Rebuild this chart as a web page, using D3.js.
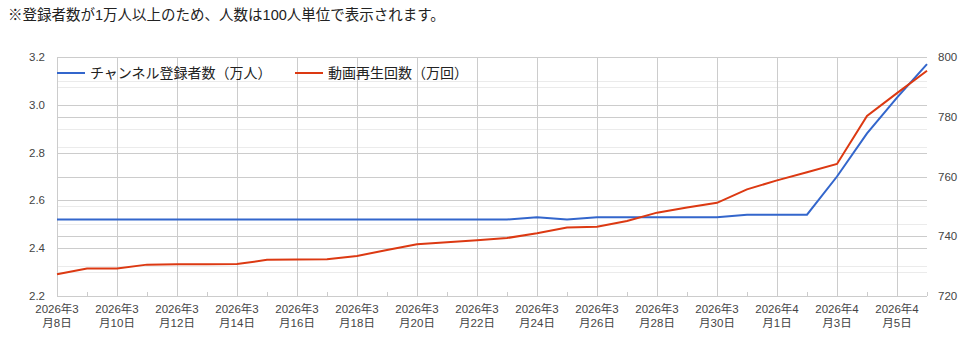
<!DOCTYPE html>
<html>
<head>
<meta charset="utf-8">
<script src="https://cdn.jsdelivr.net/npm/d3@7"></script>
<style>
  body { margin: 0; background: #fff; }
  text { font-family: Arial, "Liberation Sans", "Noto Sans CJK JP", sans-serif; }
</style>
</head>
<body>
<div id="chart"></div>
<script>
// Data
var dates = ["2026-03-08","2026-03-09","2026-03-10","2026-03-11","2026-03-12","2026-03-13","2026-03-14",
  "2026-03-15","2026-03-16","2026-03-17","2026-03-18","2026-03-19","2026-03-20","2026-03-21","2026-03-22",
  "2026-03-23","2026-03-24","2026-03-25","2026-03-26","2026-03-27","2026-03-28","2026-03-29","2026-03-30",
  "2026-03-31","2026-04-01","2026-04-02","2026-04-03","2026-04-04","2026-04-05","2026-04-06"];

var subscribers = [2.52,2.52,2.52,2.52,2.52,2.52,2.52,2.52,2.52,2.52,2.52,2.52,2.52,2.52,2.52,2.52,
  2.53,2.52,2.53,2.53,2.53,2.53,2.53,2.54,2.54,2.54,2.70,2.88,3.03,3.17];

var views = [727.3,729.2,729.2,730.5,730.6,730.6,730.7,732.1,732.2,732.3,733.4,735.4,737.3,738.0,738.7,
  739.4,741.0,742.9,743.2,745.1,747.9,749.6,751.2,755.7,758.7,761.4,764.2,780.3,787.9,795.4];

var seriesNames = ["チャンネル登録者数（万人）", "動画再生回数（万回）"];
var seriesColors = ["#3366cc", "#dc3912"];

var leftTicks = [2.2, 2.4, 2.6, 2.8, 3.0, 3.2];
var leftMinor = [2.3, 2.5, 2.7, 2.9, 3.1];
var rightTicks = [720, 740, 760, 780, 800];
var rightMinor = [730, 750, 770, 790];

var note = "※登録者数が1万人以上のため、人数は100人単位で表示されます。";

let width = 975;
let height = 346;
let plotLeft = 57, plotRight = 927, plotTop = 57, plotBottom = 296;

let parse = d3.timeParse("%Y-%m-%d");
let data = dates.map((d, i) => ({ date: parse(d), sub: subscribers[i], view: views[i] }));

let svg = d3.select("#chart").append("svg")
  .attr("width", width)
  .attr("height", height);

let x = d3.scaleTime()
  .domain([data[0].date, data[data.length - 1].date])
  .range([plotLeft, plotRight]);

let yL = d3.scaleLinear().domain([2.2, 3.2]).range([plotBottom, plotTop]);
let yR = d3.scaleLinear().domain([720, 800]).range([plotBottom, plotTop]);

// note at the top
svg.append("text")
  .attr("x", 8)
  .attr("y", 20)
  .style("font-size", "14.5px")
  .style("fill", "#222")
  .text(note);

// horizontal gridlines (minor first, then major)
let grid = svg.append("g");
function hline(yy, color) {
  grid.append("line").attr("x1", plotLeft).attr("x2", plotRight)
    .attr("y1", Math.round(yy) + 0.5).attr("y2", Math.round(yy) + 0.5)
    .style("stroke", color);
}
leftMinor.forEach(v => hline(yL(v), "#ebebeb"));
rightMinor.forEach(v => hline(yR(v), "#ebebeb"));
leftTicks.forEach(v => hline(yL(v), "#cccccc"));
rightTicks.forEach(v => hline(yR(v), "#cccccc"));

// vertical gridlines every 2 days, small ticks on odd days
let labelDates = data.filter((d, i) => i % 2 == 0 && i < data.length - 1).map(d => d.date);
let minorDates = data.filter((d, i) => i % 2 == 1).map(d => d.date);

labelDates.forEach(d => {
  grid.append("line")
    .attr("x1", Math.round(x(d)) + 0.5).attr("x2", Math.round(x(d)) + 0.5)
    .attr("y1", plotTop).attr("y2", plotBottom)
    .style("stroke", "#cccccc");
});
minorDates.forEach(d => {
  grid.append("line")
    .attr("x1", Math.round(x(d)) + 0.5).attr("x2", Math.round(x(d)) + 0.5)
    .attr("y1", plotBottom - 4).attr("y2", plotBottom)
    .style("stroke", "#cccccc");
});

// x labels, two lines
let fmt1 = d3.timeFormat("%Y年%-m");
let fmt2 = d3.timeFormat("月%-d日");
labelDates.forEach(d => {
  let t = svg.append("text")
    .attr("text-anchor", "middle")
    .style("font-size", "11.5px")
    .style("fill", "#444");
  t.append("tspan").attr("x", x(d)).attr("y", 313).text(fmt1(d));
  t.append("tspan").attr("x", x(d)).attr("y", 327).text(fmt2(d));
});

// left axis labels
svg.append("g").selectAll("text")
  .data(leftTicks)
  .join("text")
  .attr("x", 45)
  .attr("y", d => yL(d))
  .attr("dy", "0.35em")
  .attr("text-anchor", "end")
  .style("font-size", "11.5px")
  .style("fill", "#444")
  .text(d => d.toFixed(1));

// right axis labels
svg.append("g").selectAll("text")
  .data(rightTicks)
  .join("text")
  .attr("x", 938)
  .attr("y", d => yR(d))
  .attr("dy", "0.35em")
  .style("font-size", "11.5px")
  .style("fill", "#444")
  .text(d => d);

// lines
let subLine = d3.line().x(d => x(d.date)).y(d => yL(d.sub));
let viewLine = d3.line().x(d => x(d.date)).y(d => yR(d.view));

svg.append("path")
  .datum(data)
  .attr("d", subLine)
  .style("fill", "none")
  .style("stroke", seriesColors[0])
  .style("stroke-width", 2);

svg.append("path")
  .datum(data)
  .attr("d", viewLine)
  .style("fill", "none")
  .style("stroke", seriesColors[1])
  .style("stroke-width", 2);

// legend
let legendX = [57, 295];
seriesNames.forEach((name, i) => {
  svg.append("line")
    .attr("x1", legendX[i]).attr("x2", legendX[i] + 28)
    .attr("y1", 73).attr("y2", 73)
    .style("stroke", seriesColors[i])
    .style("stroke-width", 2);
  svg.append("text")
    .attr("x", legendX[i] + 33)
    .attr("y", 73)
    .attr("dy", "0.35em")
    .style("font-size", "14px")
    .style("fill", "#222")
    .text(name);
});
</script>
</body>
</html>
